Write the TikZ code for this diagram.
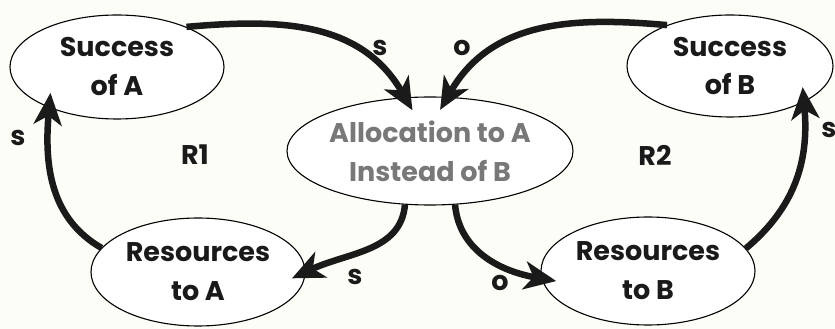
\documentclass[tikz,border=0pt]{standalone}
\usepackage{fontspec}
\setmainfont{Poppins}
\usetikzlibrary{shapes.geometric,arrows.meta}
\definecolor{bgcol}{RGB}{253,253,248}
\definecolor{inkcol}{RGB}{26,26,26}
\definecolor{greycol}{RGB}{120,120,120}
\begin{document}
\begin{tikzpicture}[x=1pt,y=1pt,
	every node/.style={font=\fontsize{27}{39}\selectfont\bfseries, align=center, text=inkcol},
	var/.style={draw=black, fill=white, ellipse, line width=1.1pt, inner sep=0pt},
	link/.style={line width=6.5pt, draw=inkcol, -{Stealth[length=32pt,width=28pt,inset=9pt]}, shorten >=-15pt},
	sign/.style={}]
	\fill[bgcol] (0,0) rectangle (835,329);
	\useasboundingbox (0,0) rectangle (835,329);
	% variables
	\node[var, minimum width=214pt, minimum height=104pt] (sa) at (117,262) {Success\\of A};
	\node[var, minimum width=206pt, minimum height=102pt] (sb) at (730,263) {Success\\of B};
	\node[var, minimum width=286pt, minimum height=108pt, text=greycol] (al) at (430,178) {Allocation to A\\Instead of B};
	\node[var, minimum width=214pt, minimum height=108pt] (ra) at (198,57) {Resources\\to A};
	\node[var, minimum width=214pt, minimum height=108pt] (rb) at (648,58) {Resources\\to B};
	% links
	\draw[link] (sa.30) to[out=5, in=120] (al.115);
	\draw[link] (sb.147) to[out=175, in=60] (al.72);
	\draw[link] (al.245) to[out=-95, in=25] (ra.0);
	\draw[link] (al.295) to[out=-85, in=170] (rb.184);
	\draw[link] (ra.166) to[out=150, in=-95] (sa.211);
	\draw[link] (rb.13) to[out=40, in=-85] (sb.334);
	% polarities
	\node[sign] (s1) at (380,281) {s};
	\node[sign] (o1) at (462,281) {o};
	\node[sign] (s2) at (355,52) {s};
	\node[sign] (o2) at (500,46) {o};
	\node[sign] (s3) at (18,191) {s};
	\node[sign] (s4) at (829,199) {s};
	% loops
	\node (r1) at (195,174) {R1};
	\node (r2) at (655,174) {R2};
\end{tikzpicture}
\end{document}
